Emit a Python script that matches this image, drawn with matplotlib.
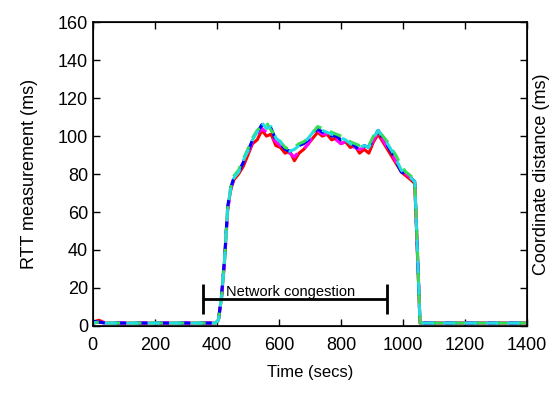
import matplotlib
matplotlib.use("Agg")
from matplotlib import pyplot as plt

plt.rcParams["font.family"] = ["Liberation Sans", "DejaVu Sans"]

# time axis shared by all series (secs)
time_secs = [0, 20, 40, 100, 200, 300, 395, 405, 415, 425, 435, 445, 455, 470,
             485, 500, 515, 530, 545, 560, 575, 590, 605, 620, 635, 650, 665,
             680, 695, 710, 725, 740, 755, 770, 785, 800, 815, 830, 845, 860,
             875, 890, 905, 920, 935, 950, 965, 980, 995, 1010, 1025, 1038,
             1046, 1055, 1100, 1200, 1300, 1400]

rtt_red = [2, 3, 1.5, 1.5, 1.5, 1.5, 1.5, 3, 15, 35, 62, 72, 77, 80,
           84, 90, 96, 98, 103, 100, 101, 95, 94, 91, 92, 87, 91,
           93, 96, 99, 102, 100, 101, 98, 99, 96, 97, 94, 95, 91,
           93, 91, 97, 101, 97, 93, 89, 85, 81, 79, 77, 75,
           40, 1.5, 1.5, 1.5, 1.5, 1.5]
rtt_magenta = [1.5, 2, 1.5, 1.5, 1.5, 1.5, 1.5, 3, 14, 34, 61, 72, 78, 81,
               86, 91, 97, 101, 104, 102, 100, 97, 95, 92, 91, 89, 92,
               93, 96, 100, 103, 101, 101, 99, 98, 96, 97, 95, 94, 93,
               94, 93, 98, 102, 98, 94, 90, 86, 82, 80, 78, 76,
               42, 1.5, 1.5, 1.5, 1.5, 1.5]
rtt_blue = [2.5, 2, 1.5, 1.5, 1.5, 1.5, 1.5, 3, 16, 36, 63, 73, 78, 81,
            86, 92, 98, 102, 106, 103, 104, 98, 96, 93, 92, 93, 95,
            96, 98, 101, 104, 102, 103, 100, 100, 98, 99, 96, 95, 92,
            95, 94, 99, 103, 99, 95, 91, 86, 81, 80, 78, 76,
            42, 1.5, 1.5, 1.5, 1.5, 1.5]
rtt_green = [1.5, 2, 1.5, 1.5, 1.5, 1.5, 1.5, 3, 15, 35, 62, 73, 79, 82,
             88, 93, 99, 103, 105, 107, 103, 100, 97, 94, 93, 94, 96,
             97, 99, 102, 105, 104, 103, 102, 101, 100, 99, 97, 96, 95,
             96, 95, 100, 103, 100, 97, 93, 89, 84, 81, 79, 77,
             43, 1.5, 1.5, 1.5, 1.5, 1.5]
rtt_cyan = [1.5, 2, 1.5, 1.5, 1.5, 1.5, 1.5, 3, 15, 35, 62, 73, 78, 81,
            87, 92, 98, 102, 107, 104, 105, 99, 97, 93, 92, 93, 95,
            96, 99, 102, 104, 103, 102, 101, 100, 99, 98, 96, 95, 94,
            95, 94, 99, 103, 99, 96, 92, 87, 82, 80, 78, 76,
            42, 1.5, 1.5, 1.5, 1.5, 1.5]

congestion_start = 355
congestion_end = 950
congestion_level = 14

fig = plt.figure(figsize=(5.49, 3.96), dpi=100)
ax = fig.add_axes([0.169, 0.177, 0.791, 0.767])

ax.plot(time_secs, rtt_red, color="#ff0000", lw=2.2, ls="-")
ax.plot(time_secs, rtt_magenta, color="#ff00ff", lw=2.2, ls=(0, (4, 3)))
ax.plot(time_secs, rtt_blue, color="#0000ff", lw=2.2, ls=(0, (4, 3)))
ax.plot(time_secs, rtt_green, color="#33dd55", lw=2.2, ls=(2, (4, 3)))
ax.plot(time_secs, rtt_cyan, color="#22dddd", lw=2.2, ls=(3, (4, 3)))

# network congestion interval
ax.errorbar(
    [(congestion_start + congestion_end) / 2],
    [congestion_level],
    xerr=[(congestion_end - congestion_start) / 2],
    fmt="none",
    ecolor="black",
    elinewidth=2,
    capsize=11,
    capthick=2,
)
ax.text(congestion_start + 75, congestion_level + 1.5, "Network congestion",
        fontsize=10.5)

ax.set_xlim(0, 1400)
ax.set_ylim(0, 160)
ax.set_xticks(range(0, 1401, 200))
ax.set_yticks(range(0, 161, 20))

ax2 = ax.twinx()
ax2.set_ylim(0, 160)
ax2.set_yticks(range(0, 161, 20))
ax2.tick_params(direction="in", labelright=False, length=5, width=1)
ax2.set_ylabel("Coordinate distance (ms)", fontsize=13, labelpad=4)

ax.tick_params(direction="in", top=True, labelsize=13, length=5, width=1)
ax.tick_params(axis="x", pad=8)
for spine in ax.spines.values():
    spine.set_linewidth(1.2)

ax.set_xlabel("Time (secs)", fontsize=12, labelpad=8)
ax.set_ylabel("RTT measurement (ms)", fontsize=13, labelpad=14)

fig.savefig("out.png", dpi=100)
